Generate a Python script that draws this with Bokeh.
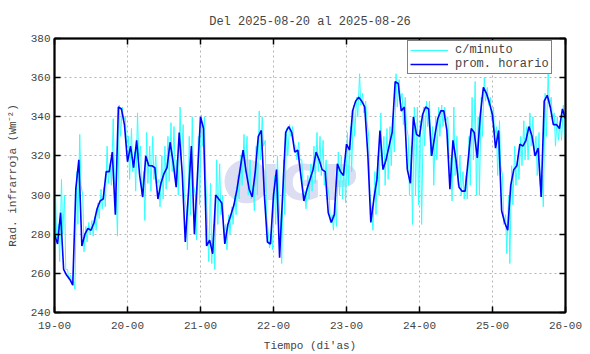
from bokeh.plotting import figure
from bokeh.models import (ColumnDataSource, FixedTicker, LinearAxis, Legend, LegendItem,
                          Range1d)
from bokeh.embed import file_html
from bokeh.resources import INLINE
from bokeh.core.properties import value

# ---------------- data ----------------
title_text = "Del 2025-08-20 al 2025-08-26"
day_ticks = [19, 20, 21, 22, 23, 24, 25, 26]
day_labels = ["19-00", "20-00", "21-00", "22-00", "23-00", "24-00", "25-00", "26-00"]
y_ticks = [240, 260, 280, 300, 320, 340, 360, 380]

# hourly mean (prom. horario), one value per hour from 19-00 to 26-00
hourly = [
    280, 275, 291, 262, 259, 257, 254, 303, 318, 274, 280, 283, 282, 286, 293, 297,
    298, 312, 312, 322, 290, 345, 344, 336,
    317, 325, 314, 328, 310, 299, 320, 315, 315, 314, 298, 306, 311, 314, 327, 317,
    304, 332, 311, 276, 300, 325, 280, 310,
    340, 334, 274, 277, 270, 300, 298, 296, 275, 285, 290, 295, 303, 313, 323, 312,
    303, 299, 312, 330, 333, 300, 276, 275,
    300, 313, 268, 300, 332, 335, 332, 322, 323, 310, 297, 303, 308, 313, 322, 318,
    313, 312, 291, 286, 290, 316, 312, 310,
    326, 323, 343, 348, 350, 348, 345, 321, 286, 298, 308, 333, 313, 318, 325, 332,
    358, 357, 343, 345, 313, 306, 340, 331,
    330, 341, 345, 344, 320, 330, 339, 343, 343, 333, 303, 328, 318, 304, 302, 302,
    318, 334, 332, 319, 341, 355, 352, 347,
    341, 324, 333, 292, 286, 282, 305, 313, 315, 326, 325, 328, 335, 330, 320, 324,
    299, 348, 351, 345, 336, 336, 334, 344,
    339,
]

# per-minute data (c/minuto), summarised as the upper / lower excursions in each hour
minute_hi = [
    304, 285, 308, 300, 262, 259, 256, 312, 331, 300, 284, 286, 287, 289, 296, 303,
    304, 325, 316, 339, 300, 346, 345, 340,
    330, 334, 322, 342, 325, 312, 332, 325, 330, 320, 308, 320, 325, 330, 337, 335,
    318, 345, 336, 293, 330, 340, 300, 330,
    341, 340, 285, 306, 285, 318, 316, 300, 285, 290, 294, 300, 310, 320, 331, 330,
    318, 305, 325, 343, 340, 328, 280, 280,
    310, 320, 285, 318, 334, 336, 335, 325, 327, 318, 301, 310, 316, 325, 332, 330,
    328, 318, 300, 290, 296, 322, 320, 318,
    332, 335, 346, 350, 362, 352, 348, 330, 292, 312, 320, 342, 330, 334, 335, 340,
    362, 359, 352, 350, 330, 325, 345, 345,
    338, 345, 348, 348, 335, 340, 345, 346, 345, 340, 318, 345, 330, 320, 312, 310,
    330, 350, 358, 340, 350, 360, 355, 350,
    345, 335, 338, 310, 290, 300, 315, 325, 320, 330, 338, 335, 342, 340, 330, 332,
    310, 352, 362, 350, 342, 340, 338, 346,
]
minute_lo = [
    278, 266, 280, 262, 257, 255, 252, 285, 305, 271, 276, 280, 279, 282, 288, 293,
    294, 306, 305, 308, 279, 330, 338, 325,
    308, 312, 302, 318, 300, 287, 306, 302, 308, 306, 294, 298, 303, 307, 312, 309,
    300, 318, 300, 272, 290, 305, 277, 295,
    325, 310, 266, 265, 262, 285, 290, 280, 272, 280, 285, 290, 298, 305, 312, 300,
    298, 292, 300, 318, 325, 290, 273, 272,
    285, 298, 265, 290, 320, 330, 326, 318, 318, 303, 293, 298, 302, 306, 312, 310,
    305, 305, 286, 282, 284, 300, 298, 296,
    305, 312, 330, 340, 346, 342, 338, 300, 282, 290, 300, 315, 305, 308, 315, 322,
    345, 348, 336, 335, 300, 285, 300, 295,
    285, 325, 335, 320, 305, 318, 330, 335, 338, 320, 297, 310, 305, 300, 298, 298,
    305, 318, 300, 300, 330, 348, 346, 338,
    330, 310, 315, 285, 270, 265, 295, 305, 308, 315, 318, 318, 325, 320, 310, 305,
    294, 330, 345, 338, 325, 328, 328, 330,
]

# ---------------- derived tables ----------------
hour_x = [19 + h / 24 for h in range(len(hourly))]
min_x, min_y = [], []
for h, (hi, lo) in enumerate(zip(minute_hi, minute_lo)):
    min_x += [19 + (h + 0.3) / 24, 19 + (h + 0.7) / 24]
    min_y += [hi, lo]

src_h = ColumnDataSource(dict(x=hour_x, y=hourly))
src_m = ColumnDataSource(dict(x=min_x, y=min_y))

FONT = "Liberation Mono"
TXT = "#444444"

p = figure(width=582, height=354, output_backend="svg", toolbar_location=None,
           x_range=Range1d(19, 26), y_range=Range1d(240, 380),
           min_border_left=54, min_border_right=17, min_border_top=38, min_border_bottom=41)

p.title.text = title_text
p.title.align = "center"
p.title.text_font = FONT
p.title.text_font_size = "12px"
p.title.text_font_style = "normal"
p.title.text_color = TXT
p.title.standoff = 19

# watermark
p.scatter([21.63], [307], size=44, marker="circle", fill_color="#dcdcf2",
          line_color=None)
p.text([21.84], [306], text=["IGP"], text_font=value("DejaVu Sans"),
       text_font_style="bold", text_font_size="50px", text_color="#dcdcf2",
       text_baseline="middle", text_align="left")

r_m = p.line("x", "y", source=src_m, line_color="#33ffff", line_width=1)
r_h = p.line("x", "y", source=src_h, line_color="#0000ff", line_width=1.6)

# axes
for ax in p.xaxis:
    ax.ticker = FixedTicker(ticks=day_ticks)
    ax.major_label_overrides = {t: l for t, l in zip(day_ticks, day_labels)}
    ax.axis_label = "Tiempo (di'as)"
for ax in p.yaxis:
    ax.ticker = FixedTicker(ticks=y_ticks)
    ax.axis_label = "Rad. infrarroja (Wm\u207b\u00b2)"

for ax in list(p.xaxis) + list(p.yaxis):
    ax.major_label_text_font = FONT
    ax.major_label_text_font_size = "11px"
    ax.major_label_text_color = TXT
    ax.axis_label_text_font = FONT
    ax.axis_label_text_font_size = "11px"
    ax.axis_label_text_font_style = "normal"
    ax.axis_label_text_color = TXT
    ax.major_tick_in = 6
    ax.major_tick_out = 0
    ax.minor_tick_in = 0
    ax.minor_tick_out = 0
    ax.axis_line_color = "black"
    ax.axis_line_width = 2
    ax.major_tick_line_color = "black"
    ax.major_tick_line_width = 1.5
p.yaxis.axis_label_standoff = 9
p.yaxis.major_label_standoff = 4
p.xaxis.major_label_standoff = 9
p.xaxis.axis_label_standoff = 8

top = LinearAxis(ticker=FixedTicker(ticks=day_ticks), major_label_text_font_size="0px",
                 major_tick_in=6, major_tick_out=0, minor_tick_in=0, minor_tick_out=0,
                 axis_line_width=2, major_tick_line_width=1.5, major_label_standoff=0)
right = LinearAxis(ticker=FixedTicker(ticks=y_ticks), major_label_text_font_size="0px",
                   major_tick_in=6, major_tick_out=0, minor_tick_in=0, minor_tick_out=0,
                   axis_line_width=2, major_tick_line_width=1.5, major_label_standoff=0)
top.major_label_overrides = {t: "" for t in day_ticks}
right.major_label_overrides = {t: "" for t in y_ticks}
p.add_layout(top, "above")
p.add_layout(right, "right")

p.outline_line_color = "black"
p.outline_line_width = 1.5

p.xgrid.ticker = FixedTicker(ticks=day_ticks)
p.ygrid.ticker = FixedTicker(ticks=y_ticks)
for g in (p.xgrid, p.ygrid):
    g.grid_line_color = "#b4b4b4"
    g.grid_line_dash = "2 3"
    g.grid_line_width = 1

legend = Legend(items=[LegendItem(label="c/minuto", renderers=[r_m]),
                       LegendItem(label="prom. horario", renderers=[r_h])],
                location=(353, 238))
legend.label_text_font = FONT
legend.label_text_font_size = "12px"
legend.label_text_color = TXT
legend.border_line_color = "black"
legend.border_line_width = 1
legend.background_fill_alpha = 1
legend.glyph_width = 38
legend.glyph_height = 10
legend.label_height = 10
legend.spacing = 0
legend.padding = 2
legend.margin = 0
legend.label_standoff = 7
p.add_layout(legend, "center")

open("out.html", "w").write(file_html(p, INLINE))
